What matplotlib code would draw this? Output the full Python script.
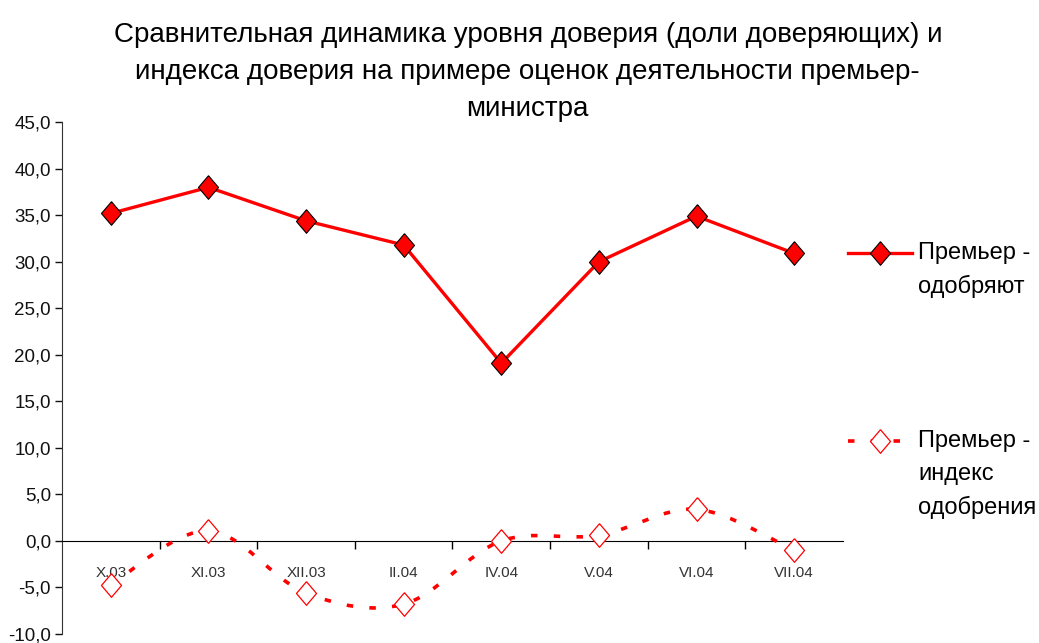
import numpy as np
import matplotlib.pyplot as plt
from matplotlib.path import Path
from matplotlib.patches import PathPatch
from matplotlib.lines import Line2D
from matplotlib.ticker import FuncFormatter

plt.rcParams['font.family'] = ['Liberation Sans', 'DejaVu Sans']

# data
months = ['X.03', 'XI.03', 'XII.03', 'II.04', 'IV.04', 'V.04', 'VI.04', 'VII.04']
approve = [35.2, 38.0, 34.4, 31.8, 19.1, 30.0, 34.9, 30.9]
index = [-4.7, 1.1, -5.6, -6.8, 0.0, 0.6, 3.4, -1.0]
label_approve = 'Премьер -\nодобряют'
label_index = 'Премьер -\nиндекс\nодобрения'
title = ('Сравнительная динамика уровня доверия (доли доверяющих) и\n'
         'индекса доверия на примере оценок деятельности премьер-\n'
         'министра')

red = '#ff0000'
diamond = [(0, 1), (0.85, 0), (0, -1), (-0.85, 0), (0, 1)]

fig = plt.figure(figsize=(10.39, 6.43), dpi=100)
ax = fig.add_axes([0.0597, 0.014, 0.7516, 0.796])

x = np.arange(len(months))

# solid line with filled diamonds
ax.plot(x, approve, color=red, lw=2.4, marker=diamond, markersize=17,
        markerfacecolor=red, markeredgecolor='black', markeredgewidth=0.8, zorder=4)

# smoothed dashed line (Excel-style Bezier through the points)
px = np.array(x, dtype=float)
py = np.array(index, dtype=float)
verts = [(px[0], py[0])]
codes = [Path.MOVETO]
n = len(px)
for i in range(n - 1):
    p0 = np.array([px[max(i - 1, 0)], py[max(i - 1, 0)]])
    p1 = np.array([px[i], py[i]])
    p2 = np.array([px[i + 1], py[i + 1]])
    p3 = np.array([px[min(i + 2, n - 1)], py[min(i + 2, n - 1)]])
    c1 = p1 + (p2 - p0) / 6
    c2 = p2 - (p3 - p1) / 6
    verts += [tuple(c1), tuple(c2), tuple(p2)]
    codes += [Path.CURVE4] * 3
curve = PathPatch(Path(verts, codes), facecolor='none', edgecolor=red, lw=2.6,
                  linestyle=(0, (1.8, 4.5)), capstyle='butt', zorder=3)
ax.add_patch(curve)
ax.plot(x, index, linestyle='none', marker=diamond, markersize=17,
        markerfacecolor='white', markeredgecolor=red, markeredgewidth=0.9, zorder=4)

ax.set_xlim(-0.5, len(months) - 0.5)
ax.set_ylim(-10, 45)
ax.set_yticks(np.arange(-10, 46, 5))
ax.yaxis.set_major_formatter(FuncFormatter(lambda v, p: f'{v:.1f}'.replace('.', ',')))
ax.tick_params(axis='y', length=5, width=1, labelsize=13.5, pad=3, colors='#111111')

ax.set_xticks(x)
ax.set_xticklabels(months)
ax.set_xticks(np.arange(0.5, len(months) - 0.5, 1), minor=True)
ax.tick_params(axis='x', which='major', length=0, pad=18, labelsize=11, labelcolor='#333333')
ax.tick_params(axis='x', which='minor', length=6, width=1, color='black', direction='out')

for s in ['top', 'right']:
    ax.spines[s].set_visible(False)
ax.spines['bottom'].set_position(('data', 0))
ax.spines['left'].set_color('#333333')
ax.patch.set_alpha(0)

fig.text(0.508, 1 - 22 / 643, title, ha='center', va='top', fontsize=20,
         linespacing=1.55, color='black')

# legend drawn by hand on the right
def leg_entry(y, label, **kw):
    fig.add_artist(Line2D([848 / 1039, 880 / 1039, 912 / 1039], [y, y, y],
                          transform=fig.transFigure, **kw))
    fig.text(918 / 1039, y + 11 / 643, label, ha='left', va='top', fontsize=17,
             linespacing=1.62, color='black')

leg_entry(1 - 253 / 643, label_approve, color=red, lw=2.4, marker=diamond,
          markersize=17, markevery=[1], markerfacecolor=red,
          markeredgecolor='black', markeredgewidth=0.8)
leg_entry(1 - 441 / 643, label_index, color=red, lw=2.6, linestyle=(0, (1.8, 4.5)),
          marker=diamond, markersize=17, markevery=[1], markerfacecolor='white',
          markeredgecolor=red, markeredgewidth=0.9)

fig.savefig('out.png', dpi=100)
